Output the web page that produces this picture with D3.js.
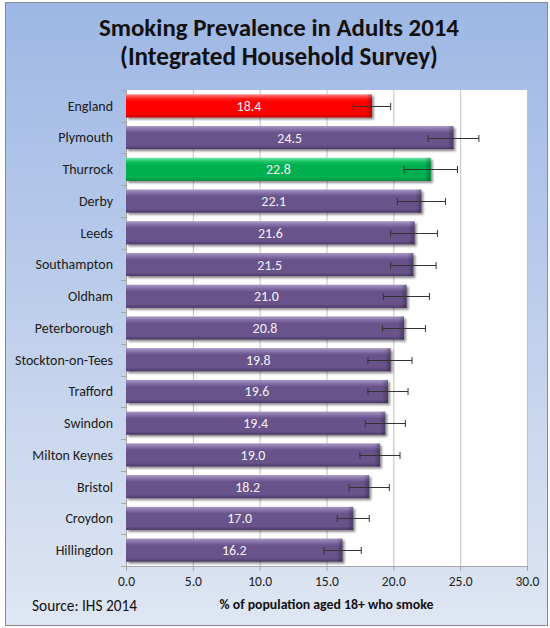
<!DOCTYPE html>
<html>
<head>
<meta charset="utf-8">
<script src="https://cdn.jsdelivr.net/npm/d3@7"></script>
<style>
  html, body { margin: 0; padding: 0; background: #ffffff; }
  svg { display: block; }
  text { font-family: Carlito, Calibri, Lato, "Open Sans", sans-serif; }
</style>
</head>
<body>
<svg id="chart" width="550" height="628"></svg>
<script>
// ---- data ----
const categories = ["England", "Plymouth", "Thurrock", "Derby", "Leeds", "Southampton", "Oldham",
  "Peterborough", "Stockton-on-Tees", "Trafford", "Swindon", "Milton Keynes", "Bristol", "Croydon", "Hillingdon"];
const values = [18.4, 24.5, 22.8, 22.1, 21.6, 21.5, 21.0, 20.8, 19.8, 19.6, 19.4, 19.0, 18.2, 17.0, 16.2];
const lowerCI = [17.0, 22.6, 20.8, 20.3, 19.8, 19.8, 19.25, 19.2, 18.1, 18.1, 17.9, 17.5, 16.7, 15.8, 14.8];
const upperCI = [19.8, 26.4, 24.8, 23.9, 23.3, 23.2, 22.7, 22.4, 21.4, 21.1, 20.9, 20.5, 19.7, 18.2, 17.6];
const xTicks = [0, 5, 10, 15, 20, 25, 30];
const titleLines = ["Smoking Prevalence in Adults 2014", "(Integrated Household Survey)"];
const xAxisTitle = "% of population  aged 18+ who smoke";
const sourceText = "Source: IHS 2014";
const highlight = { "England": "red", "Thurrock": "green" };

// ---- layout ----
const svg = d3.select("#chart");
const plot = { left: 126, right: 527, top: 90, bottom: 566 };

const defs = svg.append("defs");
const bg = defs.append("linearGradient").attr("id", "bgGrad").attr("x1", 0).attr("y1", 0).attr("x2", 0).attr("y2", 1);
bg.append("stop").attr("offset", "0%").attr("stop-color", "#9db7e4");
bg.append("stop").attr("offset", "100%").attr("stop-color", "#dfe6f3");

function barGrad(id, c) {
  const g = defs.append("linearGradient").attr("id", id).attr("x1", 0).attr("y1", 0).attr("x2", 0).attr("y2", 1);
  g.append("stop").attr("offset", "0%").attr("stop-color", c[0]);
  g.append("stop").attr("offset", "18%").attr("stop-color", c[1]);
  g.append("stop").attr("offset", "30%").attr("stop-color", c[2]);
  g.append("stop").attr("offset", "85%").attr("stop-color", c[2]);
  g.append("stop").attr("offset", "100%").attr("stop-color", c[3]);
}
barGrad("gPurple", ["#a898c4", "#7f6aa3", "#67528a", "#4b3968"]);
barGrad("gRed", ["#ff8a8a", "#ff2020", "#ff0000", "#c80000"]);
barGrad("gGreen", ["#70e6a4", "#14c061", "#00b050", "#008a3c"]);
const endGrad = defs.append("linearGradient").attr("id", "gEnd").attr("x1", 0).attr("y1", 0).attr("x2", 1).attr("y2", 0);
endGrad.append("stop").attr("offset", "0%").attr("stop-color", "#000").attr("stop-opacity", 0);
endGrad.append("stop").attr("offset", "100%").attr("stop-color", "#000").attr("stop-opacity", 0.28);

const shadow = defs.append("filter").attr("id", "shadow").attr("x", "-5%").attr("y", "-20%").attr("width", "115%").attr("height", "160%");
shadow.append("feGaussianBlur").attr("in", "SourceAlpha").attr("stdDeviation", 1.2).attr("result", "b");
shadow.append("feOffset").attr("in", "b").attr("dx", 1.5).attr("dy", 2).attr("result", "o");
shadow.append("feComponentTransfer").attr("in", "o").attr("result", "o2")
  .append("feFuncA").attr("type", "linear").attr("slope", 0.45);
const m = shadow.append("feMerge");
m.append("feMergeNode").attr("in", "o2");
m.append("feMergeNode").attr("in", "SourceGraphic");

// frame
svg.append("rect").attr("x", 5.5).attr("y", 2.5).attr("width", 542).attr("height", 623)
  .attr("fill", "url(#bgGrad)").attr("stroke", "#8a8a8a").attr("stroke-width", 1);

// scales
const x = d3.scaleLinear().domain([0, 30]).range([plot.left, plot.right]);
const y = d3.scaleBand().domain(categories).range([plot.top, plot.bottom]).paddingInner(0.27).paddingOuter(0.135);

// plot area
svg.append("rect").attr("x", plot.left).attr("y", plot.top)
  .attr("width", plot.right - plot.left).attr("height", plot.bottom - plot.top).attr("fill", "#ffffff");

// gridlines
svg.append("g").selectAll("line").data(xTicks.filter(d => d > 0)).join("line")
  .attr("x1", d => x(d) + 0.5).attr("x2", d => x(d) + 0.5)
  .attr("y1", plot.top).attr("y2", plot.bottom)
  .attr("stroke", "#bfbfbf").attr("stroke-width", 1);

// x axis
const xAxis = svg.append("g").attr("transform", `translate(0,${plot.bottom})`)
  .call(d3.axisBottom(x).tickValues(xTicks).tickFormat(d3.format(".1f")).tickSizeInner(5).tickSizeOuter(0));
xAxis.select(".domain").attr("stroke", "#a6a6a6");
xAxis.selectAll(".tick line").attr("stroke", "#a6a6a6");
xAxis.selectAll(".tick text").attr("font-size", 13.5).attr("fill", "#222").attr("dy", "0.9em")
  .style("font-family", 'Carlito, Calibri, Lato, "Open Sans", sans-serif');

// y axis (band boundary ticks)
const boundaries = categories.map(c => y(c) - y.step() * y.paddingInner() / 2).concat([plot.bottom]);
svg.append("line").attr("x1", plot.left + 0.5).attr("x2", plot.left + 0.5)
  .attr("y1", plot.top).attr("y2", plot.bottom).attr("stroke", "#a6a6a6");
svg.append("g").selectAll("line").data(boundaries).join("line")
  .attr("x1", plot.left - 5).attr("x2", plot.left)
  .attr("y1", d => Math.round(d) + 0.5).attr("y2", d => Math.round(d) + 0.5)
  .attr("stroke", "#a6a6a6");

// category labels
const catLabels = svg.append("g").selectAll("text").data(categories).join("text")
  .attr("x", 113).attr("y", d => y(d) + y.bandwidth() / 2)
  .attr("dy", "0.35em").attr("text-anchor", "end")
  .attr("font-size", 13).attr("fill", "#1a1a1a").text(d => d);
const refW = catLabels.filter(d => d === "Stockton-on-Tees").node().getComputedTextLength();
const catSize = Math.min(14.5, 13 * 98 / refW);
catLabels.attr("font-size", catSize);

// bars
const rows = categories.map((c, i) => ({ c, v: values[i], lo: lowerCI[i], hi: upperCI[i] }));
const gBars = svg.append("g");
const bar = gBars.selectAll("g").data(rows).join("g");
bar.append("rect")
  .attr("x", x(0)).attr("y", d => y(d.c))
  .attr("width", d => x(d.v) - x(0)).attr("height", y.bandwidth())
  .attr("fill", d => highlight[d.c] === "red" ? "url(#gRed)" : highlight[d.c] === "green" ? "url(#gGreen)" : "url(#gPurple)")
  .attr("filter", "url(#shadow)");
// bevel at right end
bar.append("rect")
  .attr("x", d => x(d.v) - 6).attr("y", d => y(d.c))
  .attr("width", 6).attr("height", y.bandwidth())
  .attr("fill", "url(#gEnd)");

// value labels
bar.append("text")
  .attr("x", d => (x(0) + x(d.v)) / 2).attr("y", d => y(d.c) + y.bandwidth() / 2)
  .attr("dy", "0.36em").attr("text-anchor", "middle")
  .attr("font-size", catSize).attr("fill", "#f4f2f8")
  .text(d => d3.format(".1f")(d.v));

// error bars
const err = svg.append("g").attr("stroke", "#333").attr("stroke-width", 1);
rows.forEach(d => {
  const cy = Math.round(y(d.c) + y.bandwidth() / 2) + 0.5;
  err.append("line").attr("x1", x(d.lo)).attr("x2", x(d.hi)).attr("y1", cy).attr("y2", cy);
  err.append("line").attr("x1", x(d.lo)).attr("x2", x(d.lo)).attr("y1", cy - 3.5).attr("y2", cy + 3.5);
  err.append("line").attr("x1", x(d.hi)).attr("x2", x(d.hi)).attr("y1", cy - 3.5).attr("y2", cy + 3.5);
});

// title
const titleWidths = [360, 318];
titleLines.forEach((t, i) => {
  const el = svg.append("text").attr("x", 279).attr("y", 36 + i * 29)
    .attr("text-anchor", "middle").attr("font-weight", "bold").attr("font-size", 21)
    .attr("fill", "#111").text(t);
  const w = el.node().getComputedTextLength();
  el.attr("font-size", 21 * titleWidths[i] / w);
});

// x axis title
const xt = svg.append("text").attr("x", (plot.left + plot.right) / 2).attr("y", 609)
  .attr("text-anchor", "middle").attr("font-weight", "bold").attr("font-size", 11)
  .attr("fill", "#111").text(xAxisTitle);
xt.attr("font-size", 11 * 214 / xt.node().getComputedTextLength());

// source
const st = svg.append("text").attr("x", 32).attr("y", 611)
  .attr("font-size", 13).attr("fill", "#111").text(sourceText);
st.attr("font-size", 13 * 105 / st.node().getComputedTextLength());
</script>
</body>
</html>
